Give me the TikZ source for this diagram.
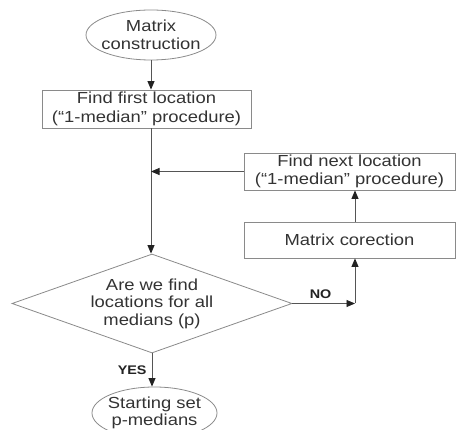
\documentclass[tikz,border=0pt]{standalone}
\usepackage{fontspec}
\setmainfont{Liberation Sans}[FakeStretch=1.15]
\usetikzlibrary{shapes.geometric,arrows.meta}
\definecolor{txt}{HTML}{333333}
\definecolor{edge}{HTML}{8A8A8A}
\definecolor{conn}{HTML}{555555}
\definecolor{tip}{HTML}{222222}
\begin{document}
\begin{tikzpicture}[x=1pt,y=-1pt,
  every node/.style={text=txt,font=\fontsize{16}{18.5}\selectfont},
  stepbox/.style={draw=edge,line width=0.8pt,rectangle,inner sep=0pt,align=center},
  term/.style={draw=edge,line width=0.8pt,ellipse,inner sep=0pt,minimum width=130pt,minimum height=50pt},
  decide/.style={draw=edge,line width=0.8pt,diamond,inner sep=0pt,minimum width=280pt,minimum height=99pt},
  conn/.style={draw=conn,line width=0.9pt,-{Triangle[length=8.5pt,width=7pt,color=tip]}},
  lbl/.style={font=\fontsize{12.5}{14}\selectfont\bfseries,text=tip,inner sep=0pt}]
\clip (0,0) rectangle (456,430);
\node[term,label={[align=center]center:Matrix\\construction}] (start) at (151,35) {};
\node[stepbox,minimum width=209pt,minimum height=38pt] (first) at (146.5,109) {Find first location\\(“1-median” procedure)};
\node[stepbox,minimum width=211pt,minimum height=37pt] (next) at (349.5,171.5) {Find next location\\(“1-median” procedure)};
\node[stepbox,minimum width=211pt,minimum height=36pt] (corr) at (349.5,240) {Matrix corection};
\node[decide,label={[align=center,font=\fontsize{16}{17.5}\selectfont]center:Are we find\\locations for all\\medians (p)}] (dec) at (152,303.5) {};
\node[term,minimum width=125pt,minimum height=52pt,label={[align=center,font=\fontsize{16}{17}\selectfont]center:Starting set\\p-medians}] (stop) at (154.5,413) {};
\coordinate (main) at (151,0);
\coordinate (bend) at (355,0);
\draw[conn] (start.south) -- (start.south |- first.north);
\draw[conn] (main |- first.south) -- (main |- dec.north);
\draw[conn] (next.west) -- (main |- next.west);
\draw[conn] (bend |- corr.north) -- (bend |- next.south);
\draw[conn] (dec.east) -- (bend |- dec.east) node[lbl,pos=0.45,above=4pt] {NO};
\draw[conn] (bend |- dec.east) -- (bend |- corr.south);
\draw[conn] (dec.south) -- (dec.south |- stop.north) node[lbl,midway,left=5pt] {YES};
\end{tikzpicture}
\end{document}
